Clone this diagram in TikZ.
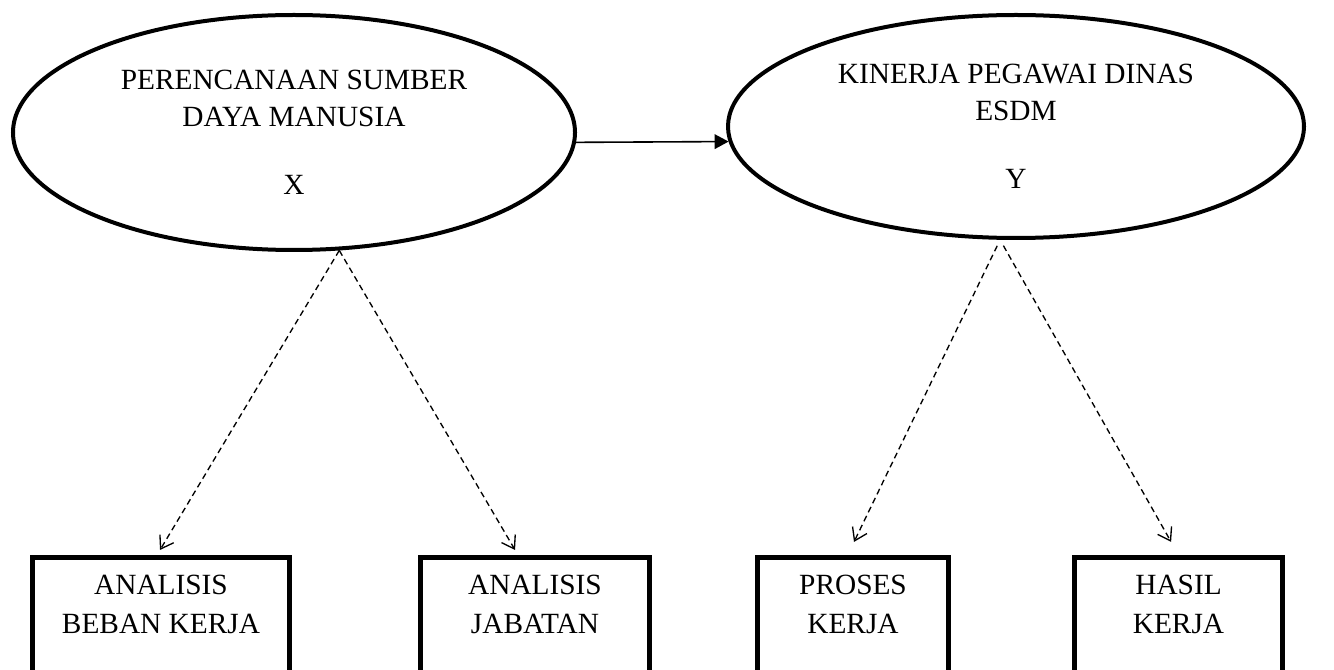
\documentclass[tikz,border=0pt]{standalone}
\usepackage{fontspec}
\setmainfont{Liberation Serif}
\usetikzlibrary{shapes.geometric,arrows.meta}

\begin{document}
\begin{tikzpicture}[x=0.75pt, y=-0.75pt,
		var/.style = {draw, ellipse, line width=3pt, inner sep=0pt, align=center, font=\fontsize{22}{27.75}\selectfont},
		ind/.style = {draw, rectangle, line width=3.75pt, anchor=north, minimum height=85.9pt},
		lbl/.style = {anchor=north, inner sep=0pt, yshift=-15.2pt, align=center, font=\fontsize{22}{27.75}\selectfont},
		dep/.style = {dash pattern=on 4.5pt off 3pt, line width=1pt, -{Straight Barb[length=9pt,width=12pt]}},
		cause/.style = {line width=1.2pt, -{Triangle[length=10.5pt,width=11pt]}}]
			\useasboundingbox (0,0) rectangle (1334,670);
			\node[var, minimum width=421.5pt, minimum height=176.25pt] (x) at (294,132.5) {PERENCANAAN SUMBER\\DAYA MANUSIA\\[23.25pt]X};
			\node[var, minimum width=432pt, minimum height=167.25pt] (y) at (1016,126.5) {KINERJA PEGAWAI DINAS\\ESDM\\[23.25pt]Y};
			\node[ind, minimum width=192.75pt, label={[lbl]north:ANALISIS\\[1.5pt]BEBAN KERJA}] (abk) at (161,555) {};
			\node[ind, minimum width=171.75pt, label={[lbl]north:ANALISIS\\[1.5pt]JABATAN}] (jab) at (535,555) {};
			\node[ind, minimum width=143.25pt, label={[lbl]north:PROSES\\[1.5pt]KERJA}] (pk) at (853,555) {};
			\node[ind, minimum width=156pt, label={[lbl]north:HASIL\\[1.5pt]KERJA}] (hk) at (1178.5,555) {};
			
			\draw[cause] (x.-2) -- (y.183);
			\draw[dep, shorten >=4.4pt] (x.-69) -- ([xshift=-3pt]abk.north);
			\draw[dep, shorten >=4.4pt] (x.-69) -- ([xshift=-12.75pt]jab.north);
			\draw[dep, shorten <=5pt, shorten >=10.9pt] (y.-98) -- ([xshift=-4pt]pk.north);
			\draw[dep, shorten <=5pt, shorten >=11.3pt] (y.-98) -- (hk.north);
		\end{tikzpicture}
\end{document}
